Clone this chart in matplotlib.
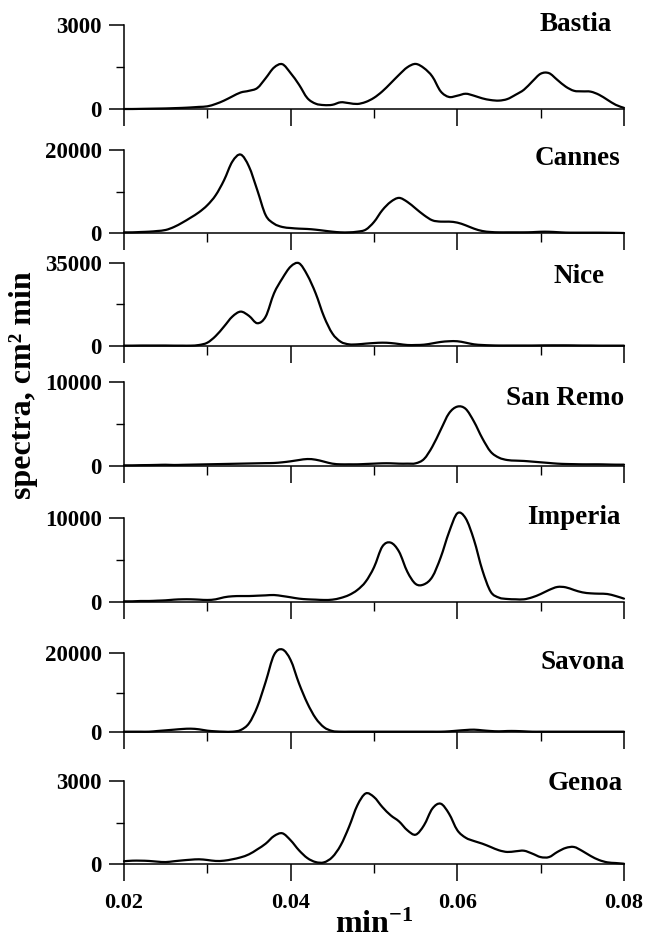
import numpy as np
import matplotlib
matplotlib.use("Agg")
import matplotlib.pyplot as plt
from matplotlib.path import Path
from matplotlib.patches import PathPatch

plt.rcParams["font.family"] = "Liberation Serif"
plt.rcParams["font.weight"] = "bold"
plt.rcParams["mathtext.fontset"] = "custom"
plt.rcParams["mathtext.rm"] = "Liberation Serif:bold"
plt.rcParams["mathtext.it"] = "Liberation Serif:italic:bold"
plt.rcParams["mathtext.bf"] = "Liberation Serif:bold"

# frequency grid, min^-1
freq = np.linspace(0.02, 0.08, 61)

stations = ["Bastia", "Cannes", "Nice", "San Remo", "Imperia", "Savona", "Genoa"]
y_max = [3000, 20000, 35000, 10000, 10000, 20000, 3000]

bastia = [0, 0, 5, 10, 15, 20, 30, 40, 55, 75,
          95, 180, 300, 450, 590, 650, 750, 1100, 1480, 1600,
          1280, 870, 390, 190, 140, 150, 240, 210, 180, 250,
          400, 630, 920, 1220, 1490, 1610, 1460, 1160, 630, 430,
          475, 545, 475, 380, 320, 300, 355, 510, 690, 985,
          1260, 1280, 1040, 800, 650, 630, 620, 510, 330, 150,
          40]
cannes = [160, 160, 240, 320, 480, 730, 1450, 2500, 3700, 5000,
          6700, 9100, 12700, 17200, 18900, 16000, 10300, 4300, 2250, 1450,
          1200, 1050, 970, 800, 560, 320, 160, 160, 320, 800,
          2660, 5500, 7500, 8460, 7500, 5900, 4300, 3060, 2740, 2740,
          2500, 1850, 1050, 480, 240, 160, 160, 160, 160, 200,
          300, 300, 200, 100, 80, 80, 80, 80, 60, 40,
          0]
nice = [150, 150, 200, 200, 200, 200, 150, 150, 150, 420,
        1400, 4200, 8200, 12400, 14500, 12700, 9600, 12400, 22200, 28500,
        33500, 34900, 29900, 22200, 12400, 5300, 1800, 700, 700, 1000,
        1250, 1400, 1250, 840, 420, 420, 560, 1100, 1700, 2000,
        2000, 1400, 700, 420, 280, 200, 200, 200, 200, 200,
        250, 280, 280, 280, 250, 200, 200, 150, 150, 150,
        150]
san_remo = [80, 80, 100, 110, 130, 150, 120, 140, 160, 180,
            200, 220, 240, 260, 280, 300, 320, 340, 360, 440,
            560, 710, 830, 750, 520, 280, 200, 200, 200, 240,
            280, 320, 320, 280, 280, 320, 830, 2300, 4300, 6270,
            7070, 6800, 5280, 3300, 1700, 990, 710, 640, 600, 520,
            440, 360, 280, 240, 220, 200, 200, 200, 180, 160,
            160]
imperia = [80, 80, 120, 120, 160, 200, 280, 320, 320, 280,
           240, 320, 560, 680, 710, 710, 750, 790, 830, 710,
           560, 400, 320, 280, 240, 280, 480, 830, 1430, 2420,
           4130, 6600, 7070, 6000, 3600, 2150, 2100, 3000, 5300, 8300,
           10560, 9960, 7380, 3800, 1230, 520, 360, 320, 320, 560,
           950, 1430, 1790, 1750, 1430, 1150, 1030, 990, 950, 710,
           400]
savona = [80, 80, 80, 80, 250, 420, 590, 760, 840, 680,
          340, 170, 80, 80, 500, 2200, 6400, 12700, 19500, 20900,
          18200, 12300, 7300, 3500, 1200, 250, 80, 80, 80, 80,
          80, 80, 80, 80, 80, 80, 80, 80, 80, 170,
          340, 500, 590, 420, 250, 170, 250, 250, 170, 80,
          80, 80, 80, 80, 80, 80, 80, 80, 80, 80,
          80]
genoa = [100, 120, 120, 110, 85, 70, 100, 130, 155, 170,
         145, 110, 120, 170, 240, 350, 530, 735, 1010, 1110,
         855, 495, 215, 70, 60, 250, 675, 1340, 2120, 2550,
         2420, 2060, 1760, 1540, 1220, 1060, 1400, 2000, 2180, 1820,
         1220, 950, 830, 735, 615, 495, 435, 460, 480, 375,
         250, 250, 435, 580, 615, 470, 290, 145, 60, 35,
         10]

series = [bastia, cannes, nice, san_remo, imperia, savona, genoa]

W, H = 646, 940
# panel top / zero-line rows and station name anchors, in pixels
panel_top = [25, 150, 263, 382, 518, 653, 781]
panel_zero = [109, 233, 346, 466, 602, 732, 864]
name_x = [576, 578, 579, 565, 574, 583, 585]
name_base = [31, 165, 283, 405, 524, 669, 790]
ax_left, ax_right = 124, 624


def smooth_path(x, y):
    # Catmull-Rom curve through every point, written as cubic Bezier segments
    x = np.asarray(x, float)
    y = np.asarray(y, float)
    px = np.concatenate([[x[0]], x, [x[-1]]])
    py = np.concatenate([[y[0]], y, [y[-1]]])
    verts = [(x[0], y[0])]
    codes = [Path.MOVETO]
    for k in range(1, len(x)):
        p0 = np.array([px[k - 1], py[k - 1]])
        p1 = np.array([px[k], py[k]])
        p2 = np.array([px[k + 1], py[k + 1]])
        p3 = np.array([px[k + 2], py[k + 2]])
        c1 = p1 + (p2 - p0) / 6
        c2 = p2 - (p3 - p1) / 6
        verts += [tuple(c1), tuple(c2), tuple(p2)]
        codes += [Path.CURVE4] * 3
    return Path(verts, codes)


fig = plt.figure(figsize=(W / 100, H / 100), dpi=100)

for i, (name, vals, top) in enumerate(zip(stations, series, y_max)):
    ax = fig.add_axes([ax_left / W, 1 - panel_zero[i] / H,
                       (ax_right - ax_left) / W, (panel_zero[i] - panel_top[i]) / H])
    ax.add_patch(PathPatch(smooth_path(freq, vals), fill=False, edgecolor="black",
                           lw=1.6, clip_on=False, capstyle="round", joinstyle="round"))
    ax.set_xlim(0.02, 0.08)
    ax.set_ylim(0, top)
    for s in ("top", "right"):
        ax.spines[s].set_visible(False)
    for s in ("left", "bottom"):
        ax.spines[s].set_linewidth(1.1)

    ax.set_yticks([0, top])
    ax.set_yticklabels(["0", str(top)])
    ax.set_yticks([top / 2], minor=True)
    ax.set_xticks([0.02, 0.04, 0.06, 0.08])
    ax.set_xticks([0.03, 0.05, 0.07], minor=True)
    ax.tick_params(axis="y", which="major", length=11, width=1.1, pad=5, labelsize=16.5)
    ax.tick_params(axis="y", which="minor", length=6, width=1.0)
    ax.tick_params(axis="x", which="major", length=12, width=1.1, pad=9, labelsize=16)
    ax.tick_params(axis="x", which="minor", length=6.5, width=1.0)
    if i == len(stations) - 1:
        ax.set_xticklabels(["0.02", "0.04", "0.06", "0.08"])
    else:
        ax.set_xticklabels([])

    fig.text(name_x[i] / W, 1 - name_base[i] / H, name, fontsize=19.5,
             fontweight="bold", ha="center", va="baseline")

fig.text(24 / W, 1 - 385 / H, "spectra, cm² min", rotation=90,
         fontsize=23, fontweight="bold", ha="center", va="center")
fig.text(374 / W, 1 - 933 / H, r"min$^{-1}$", fontsize=23,
         fontweight="bold", ha="center", va="baseline")

fig.savefig("out.png", dpi=100)
